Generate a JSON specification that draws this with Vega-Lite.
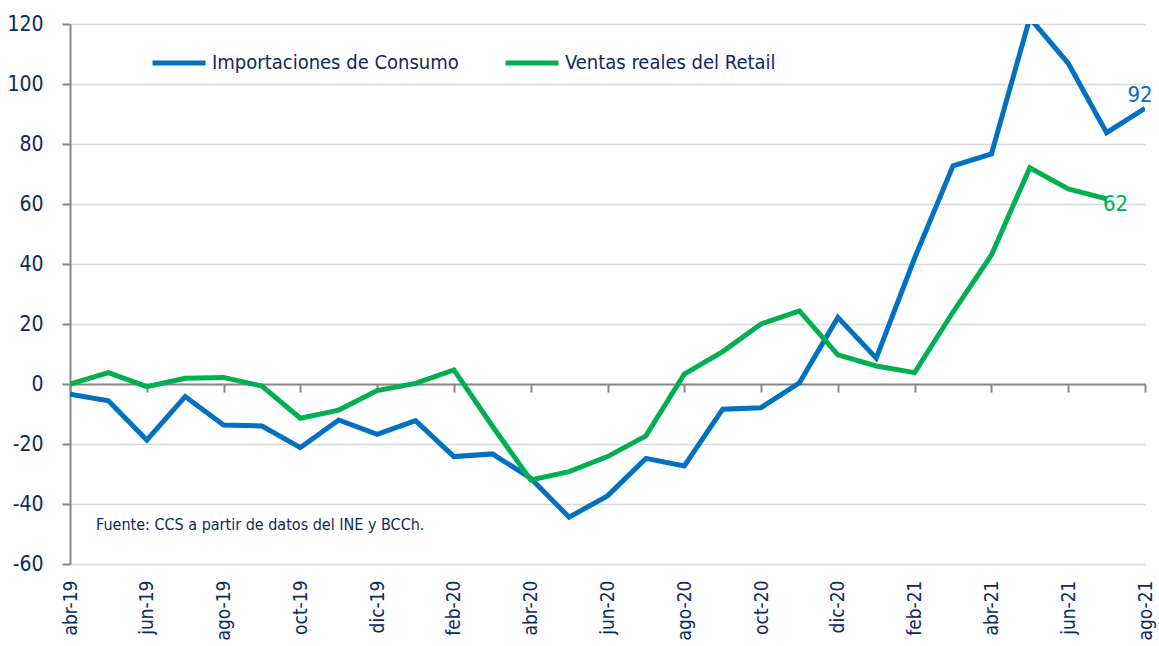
{
  "$schema": "https://vega.github.io/schema/vega-lite/v6.json",
  "width": 1075,
  "height": 540,
  "autosize": {"type": "none"},
  "padding": {"left": 70, "top": 24, "right": 14, "bottom": 82},
  "background": "white",
  "config": {
    "view": {"stroke": null},
    "font": "DejaVu Sans Condensed, sans-serif",
    "text": {"font": "DejaVu Sans Condensed, sans-serif"}
  },
  "datasets": {
    "series": [
      {"m": "abr-19", "s": "Importaciones de Consumo", "v": -3.4},
      {"m": "may-19", "s": "Importaciones de Consumo", "v": -5.6},
      {"m": "jun-19", "s": "Importaciones de Consumo", "v": -18.7},
      {"m": "jul-19", "s": "Importaciones de Consumo", "v": -4.2},
      {"m": "ago-19", "s": "Importaciones de Consumo", "v": -13.7},
      {"m": "sep-19", "s": "Importaciones de Consumo", "v": -14},
      {"m": "oct-19", "s": "Importaciones de Consumo", "v": -21.2},
      {"m": "nov-19", "s": "Importaciones de Consumo", "v": -12},
      {"m": "dic-19", "s": "Importaciones de Consumo", "v": -16.8},
      {"m": "ene-20", "s": "Importaciones de Consumo", "v": -12.2},
      {"m": "feb-20", "s": "Importaciones de Consumo", "v": -24.2},
      {"m": "mar-20", "s": "Importaciones de Consumo", "v": -23.3},
      {"m": "abr-20", "s": "Importaciones de Consumo", "v": -31.4},
      {"m": "may-20", "s": "Importaciones de Consumo", "v": -44.4},
      {"m": "jun-20", "s": "Importaciones de Consumo", "v": -37.3},
      {"m": "jul-20", "s": "Importaciones de Consumo", "v": -24.8},
      {"m": "ago-20", "s": "Importaciones de Consumo", "v": -27.3},
      {"m": "sep-20", "s": "Importaciones de Consumo", "v": -8.4},
      {"m": "oct-20", "s": "Importaciones de Consumo", "v": -7.9},
      {"m": "nov-20", "s": "Importaciones de Consumo", "v": 0.4},
      {"m": "dic-20", "s": "Importaciones de Consumo", "v": 22.2},
      {"m": "ene-21", "s": "Importaciones de Consumo", "v": 8.6},
      {"m": "feb-21", "s": "Importaciones de Consumo", "v": 42},
      {"m": "mar-21", "s": "Importaciones de Consumo", "v": 72.7},
      {"m": "abr-21", "s": "Importaciones de Consumo", "v": 76.7},
      {"m": "may-21", "s": "Importaciones de Consumo", "v": 122},
      {"m": "jun-21", "s": "Importaciones de Consumo", "v": 106.9},
      {"m": "jul-21", "s": "Importaciones de Consumo", "v": 83.8},
      {"m": "ago-21", "s": "Importaciones de Consumo", "v": 91.9, "lab": "92"},
      {"m": "abr-19", "s": "Ventas reales del Retail", "v": 0},
      {"m": "may-19", "s": "Ventas reales del Retail", "v": 3.8},
      {"m": "jun-19", "s": "Ventas reales del Retail", "v": -0.9},
      {"m": "jul-19", "s": "Ventas reales del Retail", "v": 1.9},
      {"m": "ago-19", "s": "Ventas reales del Retail", "v": 2.2},
      {"m": "sep-19", "s": "Ventas reales del Retail", "v": -0.7},
      {"m": "oct-19", "s": "Ventas reales del Retail", "v": -11.4},
      {"m": "nov-19", "s": "Ventas reales del Retail", "v": -8.7},
      {"m": "dic-19", "s": "Ventas reales del Retail", "v": -2.2},
      {"m": "ene-20", "s": "Ventas reales del Retail", "v": 0.2},
      {"m": "feb-20", "s": "Ventas reales del Retail", "v": 4.7},
      {"m": "mar-20", "s": "Ventas reales del Retail", "v": -14},
      {"m": "abr-20", "s": "Ventas reales del Retail", "v": -32},
      {"m": "may-20", "s": "Ventas reales del Retail", "v": -29.2},
      {"m": "jun-20", "s": "Ventas reales del Retail", "v": -24.2},
      {"m": "jul-20", "s": "Ventas reales del Retail", "v": -17.3},
      {"m": "ago-20", "s": "Ventas reales del Retail", "v": 3.3},
      {"m": "sep-20", "s": "Ventas reales del Retail", "v": 10.8},
      {"m": "oct-20", "s": "Ventas reales del Retail", "v": 20},
      {"m": "nov-20", "s": "Ventas reales del Retail", "v": 24.4},
      {"m": "dic-20", "s": "Ventas reales del Retail", "v": 9.7},
      {"m": "ene-21", "s": "Ventas reales del Retail", "v": 6},
      {"m": "feb-21", "s": "Ventas reales del Retail", "v": 3.8},
      {"m": "mar-21", "s": "Ventas reales del Retail", "v": 24},
      {"m": "abr-21", "s": "Ventas reales del Retail", "v": 43},
      {"m": "may-21", "s": "Ventas reales del Retail", "v": 72.1},
      {"m": "jun-21", "s": "Ventas reales del Retail", "v": 65},
      {"m": "jul-21", "s": "Ventas reales del Retail", "v": 61.7, "lab": "62"}
    ],
    "nota": [
      {"m": "abr-19", "v": -47, "t": "Fuente: CCS a partir de datos del INE y BCCh."}
    ]
  },
  "encoding": {
    "x": {
      "field": "m",
      "type": "ordinal",
      "sort": ["abr-19","may-19","jun-19","jul-19","ago-19","sep-19","oct-19","nov-19","dic-19","ene-20","feb-20","mar-20","abr-20","may-20","jun-20","jul-20","ago-20","sep-20","oct-20","nov-20","dic-20","ene-21","feb-21","mar-21","abr-21","may-21","jun-21","jul-21","ago-21"],
      "scale": {"type": "point", "padding": 0},
      "axis": {
        "title": null,
        "values": ["abr-19","jun-19","ago-19","oct-19","dic-19","feb-20","abr-20","jun-20","ago-20","oct-20","dic-20","feb-21","abr-21","jun-21","ago-21"],
        "labelAngle": -90,
        "labelAlign": "right",
        "labelBaseline": "middle",
        "offset": -180,
        "tickSize": 8,
        "labelPadding": 188,
        "domainColor": "#878787",
        "domainWidth": 2,
        "tickColor": "#878787",
        "tickWidth": 2,
        "grid": false,
        "labelFontSize": 19,
        "labelColor": "#0B2A63",
        "labelOverlap": false,
        "labelBound": false
      }
    },
    "y": {
      "field": "v",
      "type": "quantitative",
      "scale": {"domain": [-60, 120], "nice": false, "zero": false},
      "axis": {
        "title": null,
        "values": [-60,-40,-20,0,20,40,60,80,100,120],
        "labelExpr": "replace(datum.label, '\u2212', '-')",
        "tickSize": 8,
        "labelPadding": 19,
        "domainColor": "#878787",
        "domainWidth": 2,
        "tickColor": "#878787",
        "tickWidth": 2,
        "grid": true,
        "gridColor": "#D9D9D9",
        "gridWidth": 1.5,
        "labelFontSize": 21,
        "labelColor": "#0B2A63"
      }
    }
  },
  "layer": [
    {
      "data": {"name": "series"},
      "mark": {"type": "line", "strokeWidth": 5, "clip": true, "strokeJoin": "miter"},
      "encoding": {
        "color": {
          "field": "s",
          "type": "nominal",
          "scale": {"domain": ["Importaciones de Consumo", "Ventas reales del Retail"], "range": ["#0070C0", "#00B050"]},
          "legend": {
            "title": null,
            "orient": "none",
            "legendX": 80,
            "legendY": 10,
            "direction": "horizontal",
            "symbolType": "stroke",
            "symbolSize": 2809,
            "symbolStrokeWidth": 5,
            "labelFontSize": 20,
            "labelColor": "#0B2A63",
            "labelOffset": 4,
            "columnPadding": 36,
            "labelLimit": 400
          }
        }
      }
    },
    {
      "data": {"name": "series"},
      "transform": [{"filter": "datum.lab == '92'"}],
      "mark": {"type": "text", "fontSize": 22, "color": "#0070C0", "align": "center", "baseline": "middle", "dx": -5, "dy": -13},
      "encoding": {"text": {"field": "lab"}}
    },
    {
      "data": {"name": "series"},
      "transform": [{"filter": "datum.lab == '62'"}],
      "mark": {"type": "text", "fontSize": 22, "color": "#00B050", "align": "center", "baseline": "middle", "dx": 9, "dy": 5},
      "encoding": {"text": {"field": "lab"}}
    },
    {
      "data": {"name": "nota"},
      "mark": {"type": "text", "fontSize": 16, "color": "#0B2A63", "align": "left", "baseline": "middle", "dx": 26},
      "encoding": {"text": {"field": "t"}}
    }
  ]
}
